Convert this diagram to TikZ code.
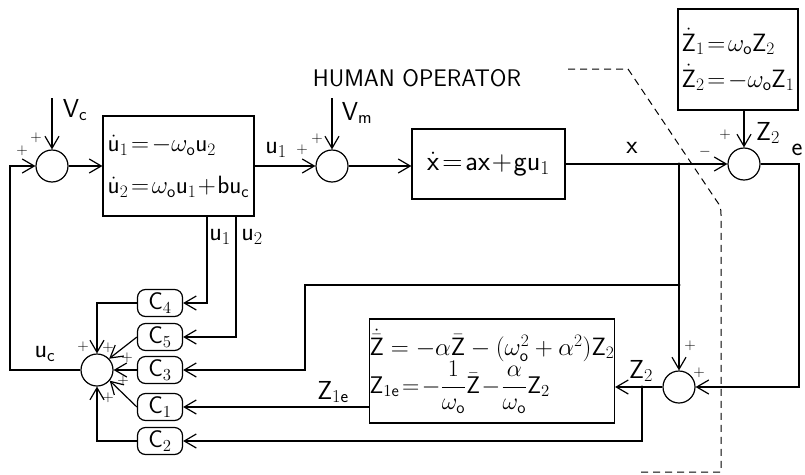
\RequirePackage{fix-cm}
\documentclass[tikz,border=0pt]{standalone}
\usepackage{amsmath}
\usepackage{tikz}
\usetikzlibrary{arrows.meta}

\newcommand{\sv}[1]{\mathsf{#1}}
\newcommand{\tight}{\thickmuskip=2mu\medmuskip=1mu}

\begin{document}
\begin{tikzpicture}[x=1pt,y=-1pt,line width=1.2pt,
  >={Straight Barb[length=12pt,width=14pt,line width=1.2pt]},
  sumnode/.style={circle,draw,minimum size=32pt,inner sep=0pt},
  eqbox/.style={draw,align=left,inner sep=0pt},
  gainbox/.style={draw,rounded corners=8pt,minimum width=45pt,minimum height=27pt,inner sep=0pt,font=\fontsize{24}{24}\selectfont},
  lbl/.style={font=\fontsize{26}{26}\selectfont,inner sep=0pt},
  sgn/.style={font=\fontsize{15}{16}\selectfont,inner sep=0pt}]
  \useasboundingbox (0,0) rectangle (805,474);
  % forward path
  \node[sumnode] (S1) at (52,166) {};
  \node[eqbox,minimum width=151pt,minimum height=100pt,font=\fontsize{25}{42}\selectfont\tight] (B1) at (178.5,166) {$\dot{\sv u}_1=-\omega_{\sv o}\sv u_2$\\$\dot{\sv u}_2=\omega_{\sv o}\sv u_1+\sv b\sv u_{\sv c}$};
  \node[sumnode] (S2) at (332,166) {};
  \node[eqbox,minimum width=153pt,minimum height=70pt,font=\fontsize{28}{42}\selectfont\tight] (B2) at (488.5,164) {$\dot{\sv x}=\sv a\sv x+\sv g\sv u_1$};
  \node[sumnode] (S5) at (744,164) {};
  \node[eqbox,minimum width=120pt,minimum height=101pt,font=\fontsize{25}{36}\selectfont\tight] (B4) at (738,59.5) {$\dot{\sv Z}_1=\omega_{\sv o}\sv Z_2$\\$\dot{\sv Z}_2=-\omega_{\sv o}\sv Z_1$};
  % estimator
  \node[sumnode] (S4) at (679,387) {};
  \node[eqbox,minimum width=240pt,minimum height=104pt,font=\fontsize{25}{42}\selectfont] (B3) at (492,371) {$\dot{\bar{\sv Z}}=-\alpha\bar{\sv Z}-(\omega_{\sv o}^2+\alpha^2)\sv Z_2$\\[-4pt]\fontsize{24}{40}\selectfont\tight$\sv Z_{1\sv e}=-\dfrac{1}{\omega_{\sv o}}\bar{\sv Z}-\dfrac{\alpha}{\omega_{\sv o}}\sv Z_2$};
  % gains
  \node[sumnode] (S3) at (97,370) {};
  \node[gainbox] (C4) at (160,303) {$\sv C_4$};
  \node[gainbox] (C5) at (160,337) {$\sv C_5$};
  \node[gainbox] (C3) at (160,370) {$\sv C_3$};
  \node[gainbox] (C1) at (160,407) {$\sv C_1$};
  \node[gainbox] (C2) at (160,441) {$\sv C_2$};
  % corner points
  \coordinate (Vc) at (52,98);
  \coordinate (Vm) at (332,98);
  \coordinate (J1) at (679,164);
  \coordinate (J2) at (679,285);
  \coordinate (J3) at (642,387);
  \coordinate (R1) at (799,164);
  \coordinate (R2) at (799,387);
  \coordinate (K1) at (305,285);
  \coordinate (U1) at (207,216);
  \coordinate (U2) at (236,216);
  \coordinate (L1) at (10,370);
  % connectors
  \draw[->] (Vc) -- (S1);
  \draw[->] (S1) -- (B1);
  \draw[->] (B1.east |- S2) -- (S2);
  \draw[->] (Vm) -- (S2);
  \draw[->] (S2.east) -- (B2.west |- S2);
  \draw[->] (B2) -- (S5);
  \draw[->] (S5 |- B4.south) -- (S5);
  \draw[->] (S5.east) -- (R1) -- (R2) -- (S4.east);
  \draw[->] (J1) -- (S4);
  \draw[->] (S4) -- (B3.east |- S4);
  \draw[->] (J3) -- (J3 |- C2) -- (C2.east);
  \draw[->] (B3.west |- C1) -- (C1.east);
  \draw[->] (J2) -- (K1) -- (K1 |- C3) -- (C3.east);
  \draw[->] (U1) -- (U1 |- C4) -- (C4.east);
  \draw[->] (U2) -- (U2 |- C5) -- (C5.east);
  \draw[->] (C4.west) -- (C4.west -| S3) -- (S3.north);
  \draw[->] (C5.west) -- (S3.43);
  \draw[->] (C3.west) -- (S3.east);
  \draw[->] (C1.west) -- (S3.-40);
  \draw[->] (C2.west) -- (C2.west -| S3) -- (S3.south);
  \draw[->] (S3.west) -- (L1) -- (L1 |- S1) -- (S1.west);
  \fill (J1) circle (1.6pt);
  \fill (J2) circle (1.6pt);
  \fill (J3) circle (1.6pt);
  % human operator boundary
  \draw[line width=1pt,dash pattern=on 7pt off 5pt] (568,69) -- (628,69) -- (716,200) .. controls (721,207) .. (721,218) -- (721,472) -- (640,472);
  \node[font=\sffamily\fontsize{24}{26}\selectfont] (HO) at (417,78) {HUMAN OPERATOR};
  % signal labels
  \node[lbl] (lVc) at (75,110) {$\sv V_{\sv c}$};
  \node[lbl] (lVm) at (357,113) {$\sv V_{\sv m}$};
  \node[lbl] (lu1) at (276,150) {$\sv u_1$};
  \node[lbl] (lx) at (632,148) {$\sv x$};
  \node[lbl] (lZ2a) at (768,133) {$\sv Z_2$};
  \node[lbl] (le) at (797,150) {$\sv e$};
  \node[lbl] (lu1b) at (220,237) {$\sv u_1$};
  \node[lbl] (lu2b) at (252,237) {$\sv u_2$};
  \node[lbl] (luc) at (45,354) {$\sv u_{\sv c}$};
  \node[lbl] (lZ1e) at (333,392) {$\sv Z_{1\sv e}$};
  \node[lbl] (lZ2b) at (641,371) {$\sv Z_2$};
  % signs
  \node[sgn] at (22,151) {$+$};
  \node[sgn] at (36,138) {$+$};
  \node[sgn] at (302,150) {$+$};
  \node[sgn] at (317,139) {$+$};
  \node[sgn] at (705,152) {$-$};
  \node[sgn] at (725,135) {$+$};
  \node[sgn] at (690,346) {$+$};
  \node[sgn] at (699,373) {$+$};
  \node[sgn] at (83,347) {$+$};
  \node[sgn] at (108,348) {$+$};
  \node[sgn] at (127,358) {$+$};
  \node[sgn] at (123,381) {$+$};
  \node[sgn] at (108,398) {$+$};
\end{tikzpicture}
\end{document}
